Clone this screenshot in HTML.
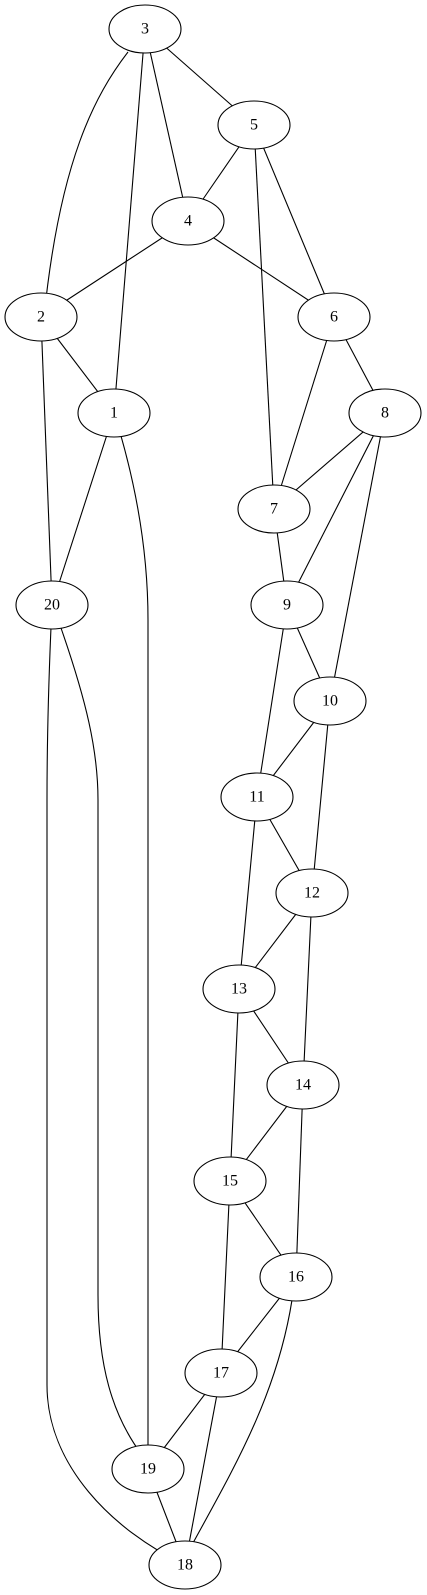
<!DOCTYPE html>
<html><head><meta charset="utf-8"><style>
html,body{margin:0;padding:0;background:#fff;}
svg{display:block;}
text{font-family:"Liberation Serif",serif;font-size:16px;text-anchor:middle;dominant-baseline:central;}
</style></head><body>
<svg width="427" height="1595" viewBox="0 0 427 1595" xmlns="http://www.w3.org/2000/svg">
<g stroke="#000" stroke-width="1.1" fill="none">
<line x1="145" y1="29" x2="254" y2="125"/>
<line x1="145" y1="29" x2="188" y2="221"/>
<line x1="145" y1="29" x2="114" y2="413"/>
<path d="M128,52 C95,95 60,160 44,317"/>
<line x1="254" y1="125" x2="188" y2="221"/>
<line x1="254" y1="125" x2="334" y2="317"/>
<line x1="254" y1="125" x2="274" y2="509"/>
<line x1="188" y1="221" x2="41" y2="317"/>
<line x1="188" y1="221" x2="334" y2="317"/>
<line x1="41" y1="317" x2="114" y2="413"/>
<line x1="41" y1="317" x2="52" y2="605"/>
<line x1="114" y1="413" x2="52" y2="605"/>
<path d="M121,436 C142,510 148,570 148,620 L148,1469"/>
<path d="M61,628 C86,700 98,750 98,800 L98,1295 C98,1365 112,1415 142,1455"/>
<path d="M52,605 C48,690 47,750 47,800 L47,1385 C47,1465 112,1530 185,1565"/>
<line x1="334" y1="317" x2="385" y2="413"/>
<line x1="334" y1="317" x2="274" y2="509"/>
<line x1="385" y1="413" x2="274" y2="509"/>
<line x1="385" y1="413" x2="287" y2="605"/>
<line x1="385" y1="413" x2="330" y2="701"/>
<line x1="274" y1="509" x2="287" y2="605"/>
<line x1="287" y1="605" x2="330" y2="701"/>
<line x1="287" y1="605" x2="257" y2="797"/>
<line x1="330" y1="701" x2="257" y2="797"/>
<line x1="330" y1="701" x2="312" y2="893"/>
<line x1="257" y1="797" x2="312" y2="893"/>
<line x1="257" y1="797" x2="239" y2="989"/>
<line x1="312" y1="893" x2="239" y2="989"/>
<line x1="312" y1="893" x2="303" y2="1085"/>
<line x1="239" y1="989" x2="303" y2="1085"/>
<line x1="239" y1="989" x2="230" y2="1181"/>
<line x1="303" y1="1085" x2="230" y2="1181"/>
<line x1="303" y1="1085" x2="296" y2="1277"/>
<line x1="230" y1="1181" x2="296" y2="1277"/>
<line x1="230" y1="1181" x2="221" y2="1373"/>
<line x1="296" y1="1277" x2="221" y2="1373"/>
<path d="M292,1300 C277,1395 234,1468 193,1543"/>
<line x1="221" y1="1373" x2="148" y2="1469"/>
<line x1="221" y1="1373" x2="185" y2="1565"/>
<line x1="148" y1="1469" x2="185" y2="1565"/>
</g>
<g stroke="#000" stroke-width="1.1" fill="#fff">
<ellipse cx="145" cy="29" rx="36" ry="24"/>
<ellipse cx="254" cy="125" rx="36" ry="24"/>
<ellipse cx="188" cy="221" rx="36" ry="24"/>
<ellipse cx="41" cy="317" rx="36" ry="24"/>
<ellipse cx="334" cy="317" rx="36" ry="24"/>
<ellipse cx="114" cy="413" rx="36" ry="24"/>
<ellipse cx="385" cy="413" rx="36" ry="24"/>
<ellipse cx="274" cy="509" rx="36" ry="24"/>
<ellipse cx="52" cy="605" rx="36" ry="24"/>
<ellipse cx="287" cy="605" rx="36" ry="24"/>
<ellipse cx="330" cy="701" rx="36" ry="24"/>
<ellipse cx="257" cy="797" rx="36" ry="24"/>
<ellipse cx="312" cy="893" rx="36" ry="24"/>
<ellipse cx="239" cy="989" rx="36" ry="24"/>
<ellipse cx="303" cy="1085" rx="36" ry="24"/>
<ellipse cx="230" cy="1181" rx="36" ry="24"/>
<ellipse cx="296" cy="1277" rx="36" ry="24"/>
<ellipse cx="221" cy="1373" rx="36" ry="24"/>
<ellipse cx="148" cy="1469" rx="36" ry="24"/>
<ellipse cx="185" cy="1565" rx="36" ry="24"/>
</g>
<g fill="#000">
<text x="145" y="29">3</text>
<text x="254" y="125">5</text>
<text x="188" y="221">4</text>
<text x="41" y="317">2</text>
<text x="334" y="317">6</text>
<text x="114" y="413">1</text>
<text x="385" y="413">8</text>
<text x="274" y="509">7</text>
<text x="52" y="605">20</text>
<text x="287" y="605">9</text>
<text x="330" y="701">10</text>
<text x="257" y="797">11</text>
<text x="312" y="893">12</text>
<text x="239" y="989">13</text>
<text x="303" y="1085">14</text>
<text x="230" y="1181">15</text>
<text x="296" y="1277">16</text>
<text x="221" y="1373">17</text>
<text x="148" y="1469">19</text>
<text x="185" y="1565">18</text>
</g>
</svg>
</body></html>
